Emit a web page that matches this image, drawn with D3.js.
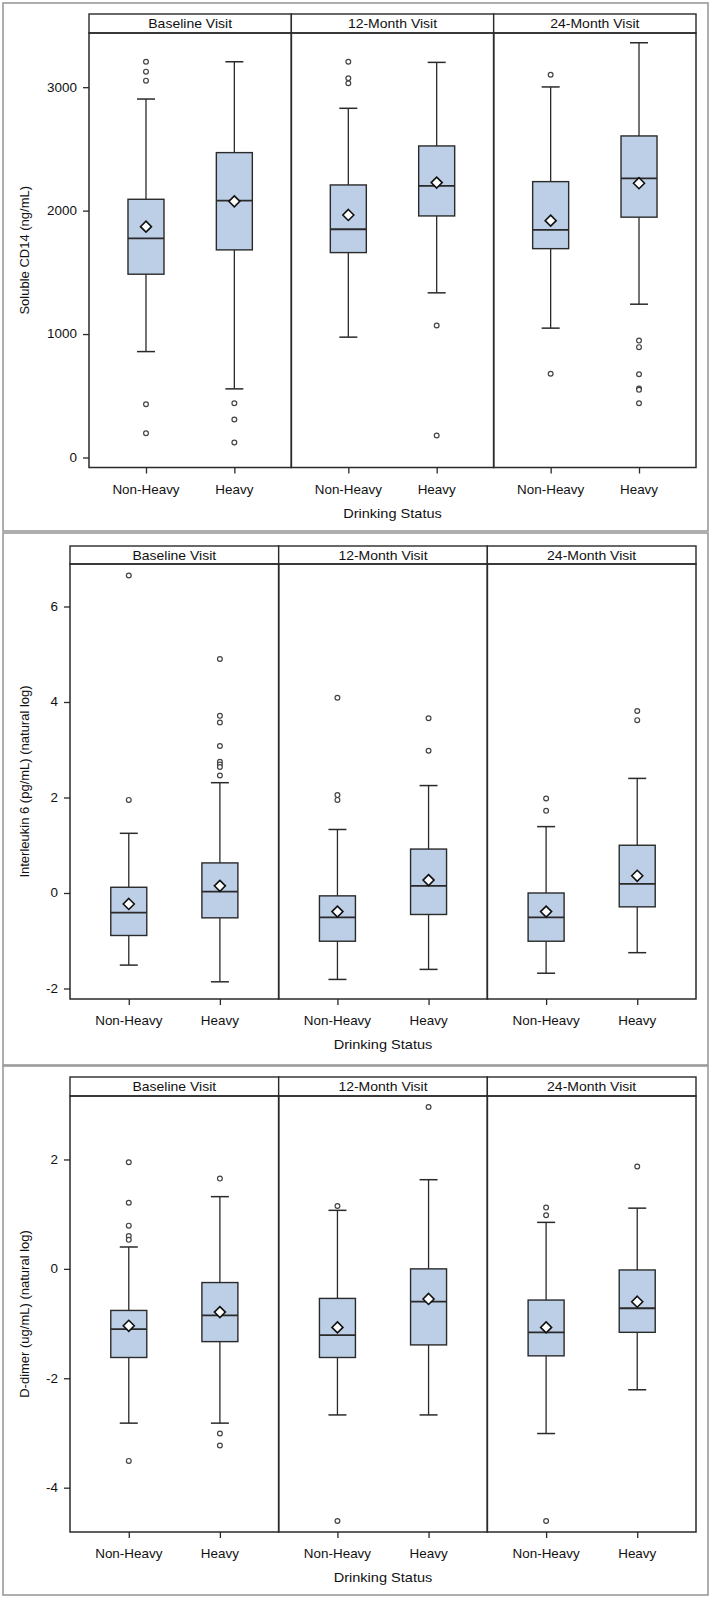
<!DOCTYPE html>
<html>
<head>
<meta charset="utf-8">
<script src="https://cdn.jsdelivr.net/npm/d3@7"></script>
<style>
  html, body { margin: 0; padding: 0; background: #fff; }
  svg { display: block; }
  text { font-family: "Liberation Sans", Arial, Helvetica, sans-serif; fill: #111; }
</style>
</head>
<body>
<svg id="chart" width="712" height="1599"></svg>
<script>
// ---------------- DATA ----------------
const visits = ["Baseline Visit", "12-Month Visit", "24-Month Visit"];
const groups = ["Non-Heavy", "Heavy"];
const xTitle = "Drinking Status";

// each box: [whiskerLow, Q1, median, Q3, whiskerHigh, mean]; order: visit x group
const cd14Boxes = [
  [858, 1485, 1776, 2092, 2904, 1870],
  [556, 1682, 2081, 2470, 3206, 2075],
  [975, 1660, 1849, 2208, 2829, 1965],
  [1334, 1957, 2200, 2524, 3201, 2227],
  [1048, 1692, 1844, 2235, 3002, 1919],
  [1242, 1947, 2262, 2605, 3360, 2222]
];
const cd14Outliers = [
  [3206, 3126, 3053, 432, 197],
  [440, 308, 121],
  [3206, 3072, 3032],
  [1069, 178],
  [3101, 678],
  [947, 894, 675, 559, 548, 440]
];
const cd14Ticks = [0, 1000, 2000, 3000];
const cd14Domain = [-81, 3439];
const cd14Label = "Soluble CD14 (ng/mL)";

const il6Boxes = [
  [-1.51, -0.89, -0.41, 0.12, 1.25, -0.23],
  [-1.86, -0.52, 0.03, 0.63, 2.31, 0.15],
  [-1.81, -1.01, -0.51, -0.06, 1.33, -0.39],
  [-1.60, -0.45, 0.15, 0.92, 2.25, 0.27],
  [-1.68, -1.01, -0.51, 0.00, 1.39, -0.39],
  [-1.25, -0.29, 0.19, 1.00, 2.40, 0.36]
];
const il6Outliers = [
  [6.65, 1.95],
  [4.90, 3.71, 3.57, 3.08, 2.75, 2.69, 2.64, 2.46],
  [4.09, 2.05, 1.95],
  [3.66, 2.98],
  [1.98, 1.72],
  [3.81, 3.62]
];
const il6Ticks = [-2, 0, 2, 4, 6];
const il6Domain = [-2.22, 6.89];
const il6Label = "Interleukin 6 (pg/mL) (natural log)";

const ddBoxes = [
  [-2.82, -1.62, -1.10, -0.76, 0.40, -1.04],
  [-2.82, -1.33, -0.85, -0.25, 1.32, -0.79],
  [-2.67, -1.62, -1.21, -0.54, 1.07, -1.07],
  [-2.67, -1.39, -0.60, 0.00, 1.63, -0.55],
  [-3.01, -1.59, -1.16, -0.57, 0.85, -1.07],
  [-2.21, -1.16, -0.72, -0.02, 1.11, -0.60]
];
const ddOutliers = [
  [1.95, 1.21, 0.79, 0.60, 0.53, -3.51],
  [1.65, -3.01, -3.23],
  [1.15, -4.61],
  [2.96],
  [1.12, 0.98, -4.61],
  [1.87]
];
const ddTicks = [-4, -2, 0, 2];
const ddDomain = [-4.81, 3.16];
const ddLabel = "D-dimer (ug/mL) (natural log)";

// ---------------- LAYOUT / STYLE ----------------
const panels = [
  { boxes: cd14Boxes, outliers: cd14Outliers, ticks: cd14Ticks, domain: cd14Domain, label: cd14Label,
    outerTop: 3, outerBottom: 531, stripTop: 14, plotTop: 33, plotBottom: 467.5, left: 89 },
  { boxes: il6Boxes, outliers: il6Outliers, ticks: il6Ticks, domain: il6Domain, label: il6Label,
    outerTop: 533, outerBottom: 1065, stripTop: 546, plotTop: 564, plotBottom: 999, left: 70 },
  { boxes: ddBoxes, outliers: ddOutliers, ticks: ddTicks, domain: ddDomain, label: ddLabel,
    outerTop: 1066, outerBottom: 1595, stripTop: 1077, plotTop: 1096, plotBottom: 1532, left: 70 }
];
const RIGHT = 696;
const STRETCH = 1.12;
const BOX_W = 36, CAP_W = 18;
const FILL = "#bccfe6";
const INK = "#2a2a2a";

const svg = d3.select("#chart");

function hText(g, x, y, str, size, anchor) {
  return g.append("text")
    .attr("transform", `translate(${x},${y}) scale(${STRETCH},1)`)
    .attr("text-anchor", anchor || "middle")
    .style("font-size", size + "px")
    .text(str);
}

panels.forEach(p => {
  const g = svg.append("g");

  // outer border
  g.append("rect")
    .attr("x", 3).attr("y", p.outerTop)
    .attr("width", 705).attr("height", p.outerBottom - p.outerTop)
    .attr("fill", "none").attr("stroke", "#9a9a9a").attr("stroke-width", 1.6);

  const y = d3.scaleLinear().domain(p.domain).range([p.plotBottom, p.plotTop]);
  const facet = d3.scaleBand().domain(visits).range([p.left, RIGHT]).padding(0);

  // strips
  visits.forEach(v => {
    const x0 = facet(v), w = facet.bandwidth();
    g.append("rect")
      .attr("x", x0).attr("y", p.stripTop)
      .attr("width", w).attr("height", p.plotTop - p.stripTop)
      .attr("fill", "#fff").attr("stroke", INK).attr("stroke-width", 1.4);
    hText(g, x0 + w / 2, (p.stripTop + p.plotTop) / 2 + 4.5, v, 12.5);
  });

  // facet frames
  visits.forEach(v => {
    g.append("rect")
      .attr("x", facet(v)).attr("y", p.plotTop)
      .attr("width", facet.bandwidth()).attr("height", p.plotBottom - p.plotTop)
      .attr("fill", "none").attr("stroke", INK).attr("stroke-width", 1.5);
  });

  // y axis
  const yAxis = g.append("g")
    .attr("transform", `translate(${p.left},0)`)
    .call(d3.axisLeft(y).tickValues(p.ticks).tickSize(6).tickFormat(d => String(d)));
  yAxis.select(".domain").remove();
  yAxis.selectAll(".tick line").attr("stroke", INK).attr("stroke-width", 1.3);
  yAxis.selectAll(".tick text")
    .attr("x", -12 / STRETCH)
    .attr("transform", `scale(${STRETCH},1)`)
    .style("font-size", "12px").style("font-family", "'Liberation Sans', Arial, sans-serif")
    .attr("fill", "#111");

  // per facet boxes
  visits.forEach((v, vi) => {
    const x = d3.scalePoint().domain(groups).range([facet(v), facet(v) + facet.bandwidth()]).padding(0.645);

    const xAxis = g.append("g")
      .attr("transform", `translate(0,${p.plotBottom})`)
      .call(d3.axisBottom(x).tickSize(6).tickPadding(0).tickFormat(() => ""));
    xAxis.select(".domain").remove();
    xAxis.selectAll(".tick line").attr("stroke", INK).attr("stroke-width", 1.3);

    groups.forEach((gr, gi) => {
      hText(g, x(gr), p.plotBottom + 26, gr, 12);
      const idx = vi * groups.length + gi;
      const [lo, q1, med, q3, hi, mean] = p.boxes[idx];
      const cx = x(gr);
      const bg = g.append("g");
      // whiskers
      bg.append("line").attr("x1", cx).attr("x2", cx).attr("y1", y(q3)).attr("y2", y(hi))
        .attr("stroke", INK).attr("stroke-width", 1.3);
      bg.append("line").attr("x1", cx).attr("x2", cx).attr("y1", y(q1)).attr("y2", y(lo))
        .attr("stroke", INK).attr("stroke-width", 1.3);
      [lo, hi].forEach(val => {
        bg.append("line").attr("x1", cx - CAP_W / 2).attr("x2", cx + CAP_W / 2)
          .attr("y1", y(val)).attr("y2", y(val))
          .attr("stroke", INK).attr("stroke-width", 1.5);
      });
      // box
      bg.append("rect")
        .attr("x", cx - BOX_W / 2).attr("y", y(q3))
        .attr("width", BOX_W).attr("height", y(q1) - y(q3))
        .attr("fill", FILL).attr("stroke", INK).attr("stroke-width", 1.4);
      bg.append("line").attr("x1", cx - BOX_W / 2).attr("x2", cx + BOX_W / 2)
        .attr("y1", y(med)).attr("y2", y(med))
        .attr("stroke", INK).attr("stroke-width", 1.8);
      // mean diamond
      const my = y(mean), d = 5.5;
      bg.append("path")
        .attr("d", `M${cx},${my - d}L${cx + d},${my}L${cx},${my + d}L${cx - d},${my}Z`)
        .attr("fill", "#fff").attr("stroke", "#111").attr("stroke-width", 1.6);
      // outliers
      bg.selectAll(null).data(p.outliers[idx]).enter().append("circle")
        .attr("cx", cx).attr("cy", val => y(val)).attr("r", 2.4)
        .attr("fill", "#fff").attr("stroke", "#444").attr("stroke-width", 1.2);
    });
  });

  // x title
  hText(g, (p.left + RIGHT) / 2, p.plotBottom + 50, xTitle, 13);

  // y title
  g.append("text")
    .attr("transform", `translate(29,${(p.plotTop + p.plotBottom) / 2}) rotate(-90)`)
    .attr("text-anchor", "middle")
    .style("font-size", "13px")
    .text(p.label);
});
</script>
</body>
</html>
